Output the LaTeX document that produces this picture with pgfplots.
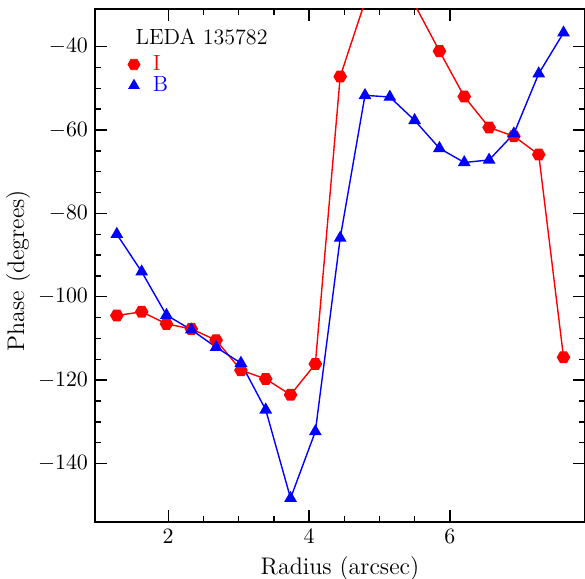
\documentclass[border=0pt]{standalone}
\usepackage{pgfplots}
\pgfplotsset{compat=1.18}
\pgfdeclareplotmark{hexagon*}{%
  \pgfpathmoveto{\pgfqpointpolar{0}{\pgfplotmarksize}}%
  \pgfpathlineto{\pgfqpointpolar{60}{\pgfplotmarksize}}%
  \pgfpathlineto{\pgfqpointpolar{120}{\pgfplotmarksize}}%
  \pgfpathlineto{\pgfqpointpolar{180}{\pgfplotmarksize}}%
  \pgfpathlineto{\pgfqpointpolar{240}{\pgfplotmarksize}}%
  \pgfpathlineto{\pgfqpointpolar{300}{\pgfplotmarksize}}%
  \pgfpathclose
  \pgfusepathqfillstroke}
\pgfplotstableread{
x y
1.270 -104.5
1.623 -103.6
1.975 -106.5
2.328 -107.7
2.680 -110.4
3.033 -117.6
3.385 -119.7
3.738 -123.5
4.090 -116.1
4.443 -47.2
4.795 -29.2
5.148 -24.0
5.500 -29.9
5.853 -41.1
6.205 -52.0
6.558 -59.4
6.910 -61.5
7.263 -65.9
7.615 -114.5
}\dataI
\pgfplotstableread{
x y
1.270 -85.0
1.623 -94.0
1.975 -104.4
2.328 -107.9
2.680 -112.1
3.033 -115.9
3.385 -127.1
3.738 -148.3
4.090 -132.3
4.443 -85.9
4.795 -51.7
5.148 -52.1
5.500 -57.7
5.853 -64.4
6.205 -67.8
6.558 -67.2
6.910 -60.9
7.263 -46.5
7.615 -36.7
}\dataB
\begin{document}
\begin{tikzpicture}
\useasboundingbox (0,0) rectangle (292.5pt,289.5pt);
\begin{axis}[
  at={(47.5pt,28.5pt)}, anchor=south west,
  scale only axis, width=245pt, height=256.5pt,
  xmin=0.96, xmax=7.92, ymin=-154, ymax=-31,
  xtick={2,4,6}, minor x tick num=3,
  ytick={-140,-120,-100,-80,-60,-40}, minor y tick num=3,
  tick align=inside,
  major tick length=6pt, minor tick length=3pt,
  axis line style={line width=1pt},
  every tick/.style={black, line width=0.7pt},
  tick label style={font=\fontsize{10.5}{12}\selectfont},
  xlabel={Radius (arcsec)}, ylabel={Phase (degrees)},
  label style={font=\fontsize{12}{14}\selectfont},
  xlabel style={at={(axis description cs:0.5,-0.0897)}, anchor=center},
  ylabel style={at={(axis description cs:-0.157,0.49)}, anchor=center},
  legend style={at={(axis description cs:0.0665,0.918)}, anchor=north west,
    draw=none, fill=none, font=\fontsize{11}{12}\selectfont,
    row sep=-2.5pt, column sep=4.5pt, inner sep=0pt},
  legend cell align=left,
]
\addlegendimage{only marks, mark=hexagon*, mark size=3pt, red}
\addlegendentry{\textcolor{red}{I}}
\addlegendimage{only marks, mark=triangle*, mark size=3pt, blue}
\addlegendentry{\textcolor{blue}{B}}
\addplot[forget plot, red, line width=0.7pt, mark=hexagon*, mark size=3pt] table[x=x,y=y] {\dataI};
\addplot[forget plot, blue, line width=0.7pt, mark=triangle*, mark size=3pt] table[x=x,y=y] {\dataB};
\node[anchor=west, font=\fontsize{11}{12}\selectfont, inner sep=0pt] at (axis description cs:0.082,0.945) {LEDA 135782};
\end{axis}
\end{tikzpicture}
\end{document}
